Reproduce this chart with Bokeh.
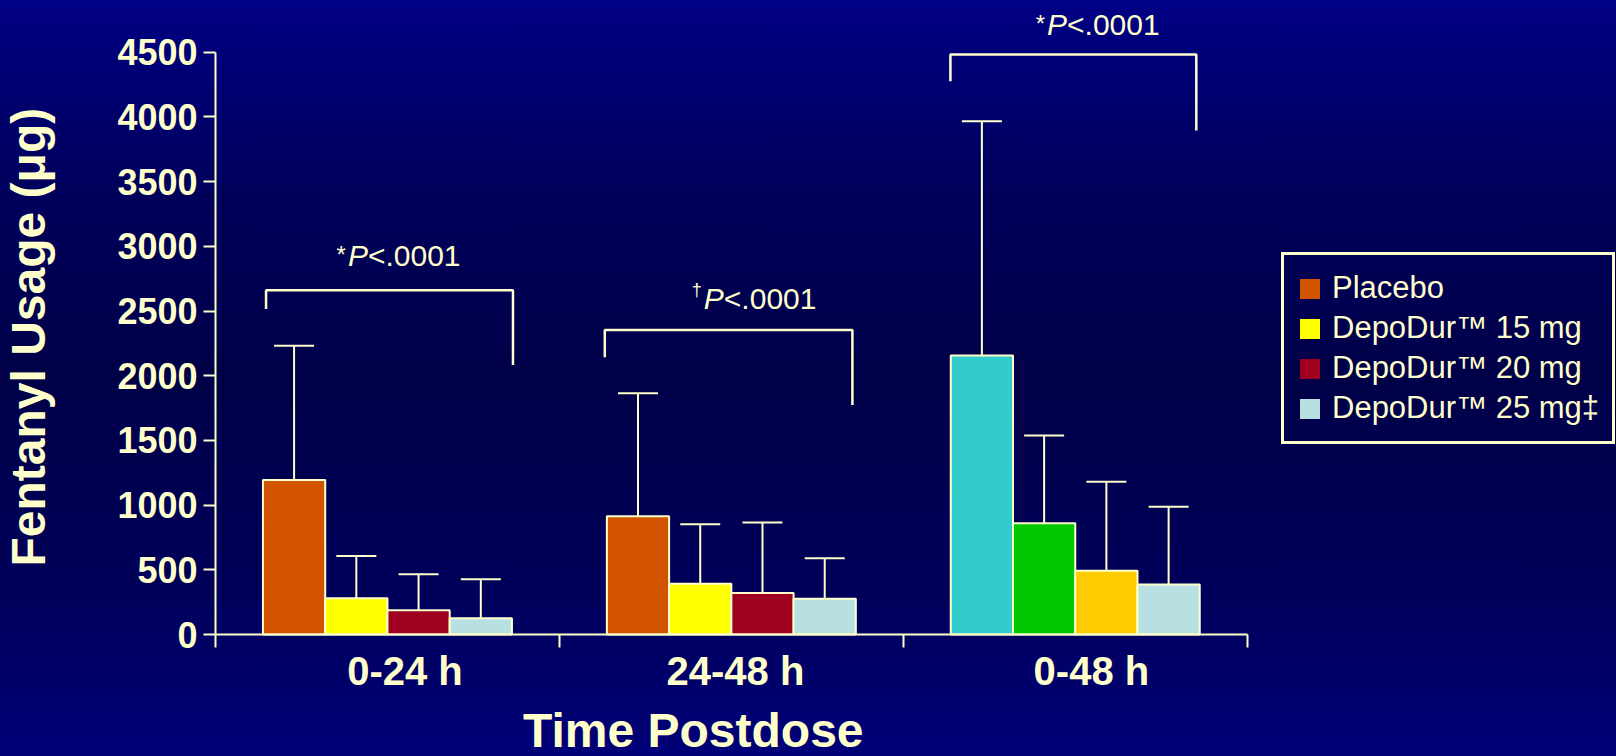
import math
from bokeh.plotting import figure
from bokeh.models import (Range1d, FixedTicker, Legend, LegendItem, Whisker,
                          ColumnDataSource, TeeHead)
from bokeh.core.properties import value
from bokeh.embed import file_html
from bokeh.resources import INLINE

# ---------------- data ----------------
periods = ["0-24 h", "24-48 h", "0-48 h"]
series = ["Placebo", "DepoDur\u2122 15 mg", "DepoDur\u2122 20 mg", "DepoDur\u2122 25 mg\u2021"]
placebo_mean = [1195, 913, 2157]
placebo_sd = [1037, 952, 1809]
dd15_mean = [280, 392, 860]
dd15_sd = [327, 461, 678]
dd20_mean = [187, 320, 493]
dd20_sd = [279, 545, 687]
dd25_mean = [125, 277, 386]
dd25_sd = [302, 313, 602]
y_ticks = [0, 500, 1000, 1500, 2000, 2500, 3000, 3500, 4000, 4500]
y_title = "Fentanyl Usage (\u03bcg)"
x_title = "Time Postdose"

# significance annotations
p_marks = ["*", "\u2020", "*"]
p_text = "<.0001"
bracket_left = [0.147, 1.132, 2.137]
bracket_right = [0.865, 1.852, 2.852]
bracket_top = [2660, 2354, 4482]
bracket_left_end = [2516, 2142, 4275]
bracket_right_end = [2083, 1773, 3896]
label_x = [0.385, 1.42, 2.418]
label_y = [2851, 2521, 4636]

# ---------------- layout / styles ----------------
CREAM = "#FFFFCC"
FONT = "Liberation Sans"
legend_colors = ["#D35400", "#FFFF00", "#A00020", "#B8E0E2"]
group_colors = [legend_colors, legend_colors, ["#33CCCC", "#00C800", "#FFCC00", "#B8E0E2"]]
bar_w = 0.181

W, H = 1616, 756
axis_left_px = 215.0      # pixel column of the y axis
zero_px = 634.0           # pixel row of y = 0
cat_px = 343.9            # pixels per period
unit_px = zero_px / 4900  # pixels per microgram


def sx(px):  # pixel column -> data x
    return (px - axis_left_px) / cat_px


def sy(py):  # pixel row -> data y
    return (zero_px - py) / unit_px


p = figure(width=W, height=H, output_backend="svg", toolbar_location=None,
           x_range=Range1d(sx(0), sx(W)), y_range=Range1d(sy(H), sy(0)),
           min_border_left=0, min_border_right=0, min_border_top=0,
           min_border_bottom=0, title=None)
p.styles = {"background": "linear-gradient(180deg, #000084 0%, #00005C 25%, #000048 50%, #00005A 78%, #000078 100%)"}
p.border_fill_color = None
p.background_fill_color = None
p.outline_line_color = None
p.xgrid.visible = False
p.ygrid.visible = False

means = [placebo_mean, dd15_mean, dd20_mean, dd25_mean]
sds = [placebo_sd, dd15_sd, dd20_sd, dd25_sd]
xs, tops, uppers, colors = [], [], [], []
for j in range(len(series)):
    for i in range(len(periods)):
        xs.append(i + 0.5 + (j - 1.5) * bar_w)
        tops.append(means[j][i])
        uppers.append(means[j][i] + sds[j][i])
        colors.append(group_colors[i][j])
src = ColumnDataSource(dict(x=xs, top=tops, upper=uppers, color=colors))

p.vbar(x="x", top="top", width=bar_w, bottom=0, source=src, fill_color="color",
       line_color=CREAM, line_width=2)

wh = Whisker(base="x", upper="upper", lower="top", source=src, dimension="height",
             line_color=CREAM, line_width=2,
             upper_head=TeeHead(size=40, line_color=CREAM, line_width=2), lower_head=None)
p.add_layout(wh)

# brackets
bx = [[l, l, r, r] for l, r in zip(bracket_left, bracket_right)]
by = [[le, t, t, re] for le, t, re in zip(bracket_left_end, bracket_top, bracket_right_end)]
p.multi_line(xs=bx, ys=by, line_color=CREAM, line_width=2.5)

p.text(x=label_x, y=label_y, text=["P"] * 3, text_font=value(FONT), text_font_style="italic",
       text_font_size="30px", text_color=CREAM, text_baseline="alphabetic", text_align="left",
       y_offset=-10)
p.text(x=label_x, y=label_y, text=[p_text] * 3, text_font=value(FONT),
       text_font_size="30px", text_color=CREAM, text_baseline="alphabetic", text_align="left",
       x_offset=20, y_offset=-10)
p.text(x=label_x, y=label_y, text=p_marks, text_font=value(FONT),
       text_font_size=["24px", "18px", "24px"], text_color=CREAM, text_baseline="alphabetic",
       text_align="right", x_offset=-2, y_offset=[-11, -18, -11])

# axis titles
p.text(x=[sx(44.3)], y=[sy(566.0)], text=[y_title], angle=math.pi / 2,
       text_font=value(FONT), text_font_size="48px", text_font_style="bold",
       text_color=CREAM, text_baseline="alphabetic", text_align="left", x_offset=-16)
p.text(x=[sx(522.5)], y=[sy(746.0)], text=[x_title],
       text_font=value(FONT), text_font_size="48px", text_font_style="bold",
       text_color=CREAM, text_baseline="alphabetic", text_align="left", y_offset=-16)

# axes drawn at fixed positions inside the full-canvas frame
p.yaxis.fixed_location = 0
p.yaxis.ticker = FixedTicker(ticks=y_ticks)
p.yaxis.bounds = (0, 4500)
p.yaxis.axis_line_color = CREAM
p.yaxis.axis_line_width = 2
p.yaxis.major_tick_line_color = CREAM
p.yaxis.major_tick_line_width = 2
p.yaxis.major_tick_out = 12
p.yaxis.major_tick_in = 0
p.yaxis.minor_tick_line_color = None
p.yaxis.major_label_text_font = FONT
p.yaxis.major_label_text_font_size = "36px"
p.yaxis.major_label_text_font_style = "bold"
p.yaxis.major_label_text_color = CREAM
p.yaxis.major_label_standoff = 6

centers = [0.551, 1.512, 2.547]
p.xaxis.fixed_location = 0
p.xaxis.ticker = FixedTicker(ticks=centers, minor_ticks=[0, 1, 2, 3])
p.xaxis.major_label_overrides = {c: lab for c, lab in zip(centers, periods)}
p.xaxis.bounds = (0, len(periods))
p.xaxis.axis_line_color = CREAM
p.xaxis.axis_line_width = 2
p.xaxis.major_tick_line_color = None
p.xaxis.major_tick_out = 13
p.xaxis.major_tick_in = 0
p.xaxis.minor_tick_line_color = CREAM
p.xaxis.minor_tick_line_width = 2
p.xaxis.minor_tick_out = 13
p.xaxis.minor_tick_in = 0
p.xaxis.major_label_text_font = FONT
p.xaxis.major_label_text_font_size = "40px"
p.xaxis.major_label_text_font_style = "bold"
p.xaxis.major_label_text_color = CREAM
p.xaxis.major_label_standoff = 1

# legend (swatch-only renderers: zero-height bars that draw nothing in the plot)
items = []
for name, c in zip(series, legend_colors):
    r = p.vbar(x=[0.5], top=[0], bottom=[0], width=0.1, fill_color=c, line_color=None)
    items.append(LegendItem(label=name, renderers=[r]))
legend = Legend(items=items, location=(1281, H - 444), glyph_width=25, glyph_height=25,
                label_standoff=10, label_width=263, label_height=40, label_text_font=FONT,
                label_text_font_size="31px", label_text_color=CREAM,
                padding=13, spacing=0, margin=0, border_line_color=CREAM,
                border_line_alpha=1.0, border_line_width=3, background_fill_alpha=0)
p.add_layout(legend)

open("out.html", "w").write(file_html(p, INLINE))
